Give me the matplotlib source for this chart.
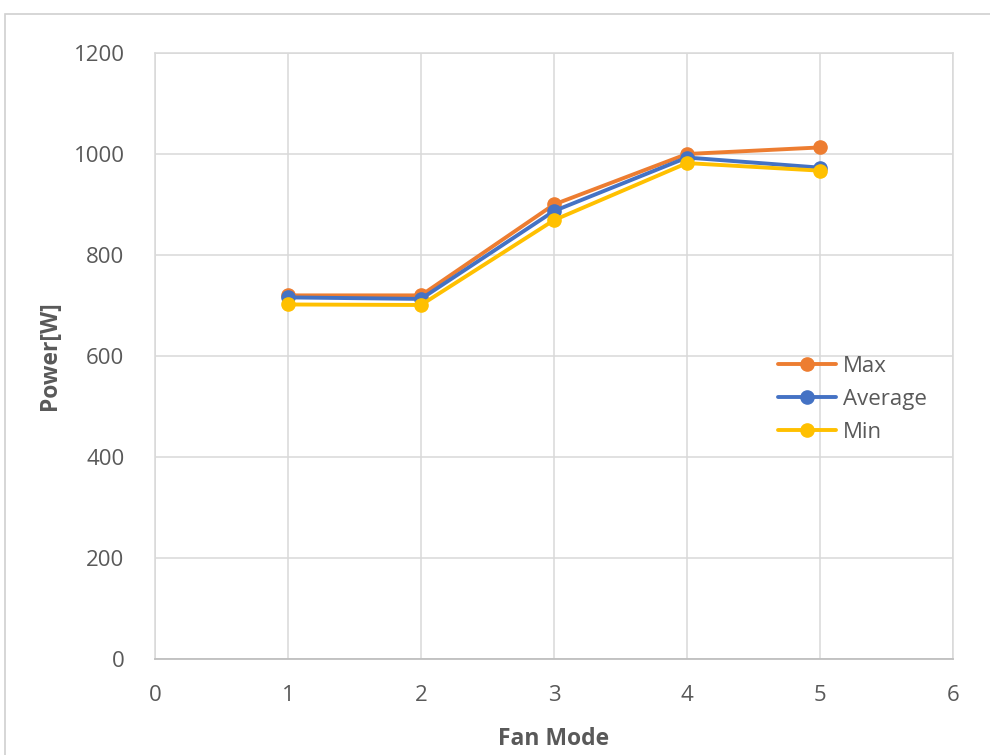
import matplotlib
matplotlib.use("Agg")
import matplotlib.pyplot as plt
from matplotlib.patches import Rectangle

plt.rcParams['font.family'] = ['Open Sans', 'DejaVu Sans']

fan_mode = [1, 2, 3, 4, 5]
power_max = [720, 720, 900, 1000, 1013]
power_avg = [716, 713, 887, 993, 973]
power_min = [702, 701, 869, 982, 967]

series_names = ["Max", "Average", "Min"]
series_colors = ["#ED7D31", "#4472C4", "#FFC000"]

x_ticks = [0, 1, 2, 3, 4, 5, 6]
y_ticks = [0, 200, 400, 600, 800, 1000, 1200]

fig = plt.figure(figsize=(9.9, 7.55), dpi=100)
fig.patch.set_facecolor("white")

# chart-area frame
fig.patches.append(Rectangle((0.005, -0.05), 1.2, 0.9815 + 0.05,
                             transform=fig.transFigure, fill=False,
                             edgecolor="#d0d0d0", linewidth=1.2, zorder=0))

ax = fig.add_axes([0.1566, 0.1272, 0.8060, 0.8026])

for vals, name, col in zip([power_max, power_avg, power_min], series_names, series_colors):
    ax.plot(fan_mode, vals, color=col, linewidth=2.8, marker="o",
            markersize=9.5, markeredgecolor=col, markerfacecolor=col,
            label=name, zorder=3, solid_capstyle="round")

ax.set_xlim(0, 6)
ax.set_ylim(0, 1200)
ax.set_xticks(x_ticks)
ax.set_yticks(y_ticks)
ax.grid(True, color="#d9d9d9", linewidth=1.1, zorder=0)
ax.set_axisbelow(True)
for side in ["left", "top", "right"]:
    ax.spines[side].set_color("#d9d9d9")
    ax.spines[side].set_linewidth(1.1)
ax.spines["bottom"].set_color("#bfbfbf")
ax.spines["bottom"].set_linewidth(1.3)
ax.tick_params(axis="both", length=0, labelsize=16, labelcolor="#595959")
ax.tick_params(axis="y", pad=22)
ax.tick_params(axis="x", pad=19)

ax.set_xlabel("Fan Mode", fontsize=16.5, fontweight="bold", color="#595959", labelpad=15)
ax.set_ylabel("Power[W]", fontsize=16.5, fontweight="bold", color="#595959", labelpad=8)

leg = ax.legend(loc="upper left", bbox_to_anchor=(0.77, 0.515), frameon=False,
                fontsize=16, handlelength=2.6, handletextpad=0.3,
                labelspacing=0.55, borderaxespad=0)
for t in leg.get_texts():
    t.set_color("#595959")

fig.savefig("out.png", dpi=100, facecolor="white")
